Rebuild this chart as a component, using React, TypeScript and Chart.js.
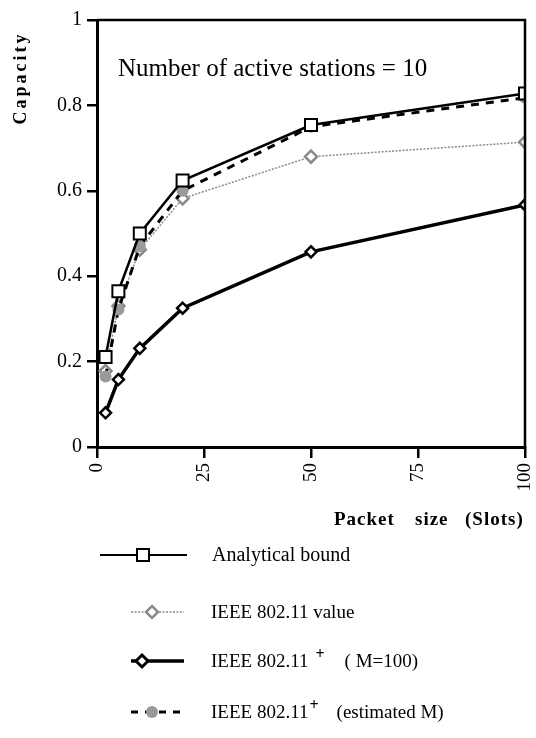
import React, { useEffect, useRef } from 'react';
import { Chart, registerables } from 'chart.js';

Chart.register(...registerables);

const packetSizes = [2, 5, 10, 20, 50, 100];
const analyticalBound = [0.211, 0.365, 0.5, 0.624, 0.754, 0.828];
const ieeeValue = [0.178, 0.33, 0.462, 0.582, 0.68, 0.714];
const ieeePlusM100 = [0.08, 0.158, 0.231, 0.325, 0.457, 0.567];
const ieeePlusEstimated = [0.165, 0.322, 0.47, 0.6, 0.75, 0.818];
const xTickValues = [0, 25, 50, 75, 100];
const yTickValues = [0, 0.2, 0.4, 0.6, 0.8, 1];
const seriesLabels = [
  'Analytical bound',
  'IEEE 802.11 value',
  'IEEE 802.11 + ( M=100)',
  'IEEE 802.11+ (estimated M)',
];
const yTitle = 'Capacity';
const xTitle = ['Packet', 'size', '(Slots)'];
const annotation = 'Number of active stations = 10';

const SERIF = '"Liberation Serif", "Times New Roman", serif';
const GREY = '#8a8a8a';

function drawMarker(ctx: CanvasRenderingContext2D, kind: number, x: number, y: number) {
  ctx.save();
  ctx.setLineDash([]);
  if (kind === 0) {
    ctx.fillStyle = '#fff';
    ctx.strokeStyle = '#000';
    ctx.lineWidth = 2;
    ctx.fillRect(x - 6, y - 6, 12, 12);
    ctx.strokeRect(x - 6, y - 6, 12, 12);
  } else if (kind === 1) {
    ctx.beginPath();
    ctx.moveTo(x, y - 6); ctx.lineTo(x + 6, y); ctx.lineTo(x, y + 6); ctx.lineTo(x - 6, y); ctx.closePath();
    ctx.fillStyle = '#fff';
    ctx.fill();
    ctx.strokeStyle = GREY;
    ctx.lineWidth = 2.5;
    ctx.stroke();
  } else if (kind === 2) {
    ctx.beginPath();
    ctx.moveTo(x, y - 6); ctx.lineTo(x + 6, y); ctx.lineTo(x, y + 6); ctx.lineTo(x - 6, y); ctx.closePath();
    ctx.fillStyle = '#fff';
    ctx.fill();
    ctx.strokeStyle = '#000';
    ctx.lineWidth = 3;
    ctx.stroke();
  } else {
    ctx.beginPath();
    ctx.arc(x, y, 6, 0, Math.PI * 2);
    ctx.fillStyle = '#999';
    ctx.fill();
  }
  ctx.restore();
}

const decorPlugin = {
  id: 'decor',
  afterDraw(chart: any) {
    const ctx: CanvasRenderingContext2D = chart.ctx;
    const area = chart.chartArea;
    ctx.save();
    // frame top & right
    ctx.strokeStyle = '#000';
    ctx.lineWidth = 2.5;
    ctx.beginPath();
    ctx.moveTo(area.left, area.top);
    ctx.lineTo(area.right, area.top);
    ctx.lineTo(area.right, area.bottom);
    ctx.stroke();

    // y title
    ctx.save();
    ctx.translate(21, 78);
    ctx.rotate(-Math.PI / 2);
    ctx.font = `bold 18px ${SERIF}`;
    (ctx as any).letterSpacing = '3px';
    ctx.fillStyle = '#000';
    ctx.textAlign = 'center';
    ctx.textBaseline = 'middle';
    ctx.fillText(yTitle, 0, 0);
    ctx.restore();

    // annotation
    ctx.font = `25px ${SERIF}`;
    ctx.fillStyle = '#000';
    ctx.textAlign = 'left';
    ctx.textBaseline = 'alphabetic';
    ctx.fillText(annotation, 118, 76);

    // x title
    ctx.font = `bold 19px ${SERIF}`;
    (ctx as any).letterSpacing = '1px';
    ctx.textBaseline = 'middle';
    ctx.textAlign = 'left';
    const xs = [334, 415, 465];
    xTitle.forEach((w, i) => ctx.fillText(w, xs[i], 520));
    (ctx as any).letterSpacing = '0px';

    // legend
    const rows = [555, 612, 661, 712];
    const lineStart = [100, 131, 131, 131];
    const lineEnd = [187, 184, 184, 180];
    const markX = [143, 152, 142, 152];
    rows.forEach((ry, i) => {
      ctx.save();
      ctx.beginPath();
      ctx.moveTo(lineStart[i], ry);
      ctx.lineTo(lineEnd[i], ry);
      if (i === 0) { ctx.strokeStyle = '#000'; ctx.lineWidth = 2; ctx.setLineDash([]); }
      if (i === 1) { ctx.strokeStyle = GREY; ctx.lineWidth = 1.5; ctx.setLineDash([2, 1.5]); }
      if (i === 2) { ctx.strokeStyle = '#000'; ctx.lineWidth = 3.5; ctx.setLineDash([]); }
      if (i === 3) { ctx.strokeStyle = '#000'; ctx.lineWidth = 3; ctx.setLineDash([7, 7]); }
      ctx.stroke();
      ctx.restore();
      drawMarker(ctx, i, markX[i], ry);
    });

    ctx.fillStyle = '#000';
    ctx.textBaseline = 'middle';
    ctx.textAlign = 'left';
    ctx.font = `20px ${SERIF}`;
    ctx.fillText(seriesLabels[0], 212, 556);
    ctx.font = `19px ${SERIF}`;
    ctx.fillText(seriesLabels[1], 211, 613);
    // row 3 with superscript
    let x = 211;
    ctx.fillText('IEEE 802.11', x, 662);
    x += ctx.measureText('IEEE 802.11').width + 7;
    ctx.font = `bold 16px ${SERIF}`;
    ctx.fillText('+', x, 655);
    x += ctx.measureText('+').width + 20;
    ctx.font = `19px ${SERIF}`;
    ctx.fillText('( M=100)', x, 662);
    // row 4
    x = 211;
    ctx.fillText('IEEE 802.11', x, 713);
    x += ctx.measureText('IEEE 802.11').width + 1;
    ctx.font = `bold 16px ${SERIF}`;
    ctx.fillText('+', x, 706);
    x += ctx.measureText('+').width + 18;
    ctx.font = `19px ${SERIF}`;
    ctx.fillText('(estimated M)', x, 713);
    ctx.restore();
  },
};

export default function App() {
  const ref = useRef<HTMLCanvasElement | null>(null);
  useEffect(() => {
    if (!ref.current) return;
    const mk = (vals: number[]) => packetSizes.map((x, i) => ({ x, y: vals[i] }));
    const chart = new Chart(ref.current, {
      type: 'line',
      data: {
        datasets: [
          {
            label: seriesLabels[0],
            data: mk(analyticalBound),
            borderColor: '#000',
            borderWidth: 2.5,
            pointStyle: 'rect',
            pointRadius: 8.5,
            pointBackgroundColor: '#fff',
            pointBorderColor: '#000',
            pointBorderWidth: 2,
            order: 0,
          },
          {
            label: seriesLabels[1],
            data: mk(ieeeValue),
            borderColor: GREY,
            borderWidth: 1.5,
            borderDash: [2, 1.5],
            pointStyle: 'rectRot',
            pointRadius: 6,
            pointBackgroundColor: '#fff',
            pointBorderColor: GREY,
            pointBorderWidth: 2.5,
            order: 3,
          },
          {
            label: seriesLabels[2],
            data: mk(ieeePlusM100),
            borderColor: '#000',
            borderWidth: 3.5,
            pointStyle: 'rectRot',
            pointRadius: 5.5,
            pointBackgroundColor: '#fff',
            pointBorderColor: '#000',
            pointBorderWidth: 2.5,
            order: 1,
          },
          {
            label: seriesLabels[3],
            data: mk(ieeePlusEstimated),
            borderColor: '#000',
            borderWidth: 3,
            borderDash: [8, 7],
            pointStyle: 'circle',
            pointRadius: 6,
            pointBackgroundColor: '#9a9a9a',
            pointBorderColor: '#9a9a9a',
            pointBorderWidth: 0,
            order: 2,
          },
        ],
      },
      options: {
        animation: false,
        responsive: false,
        maintainAspectRatio: false,
        layout: { padding: { top: 20, right: 11, left: 0, bottom: 0 } },
        plugins: { legend: { display: false }, tooltip: { enabled: false } },
        scales: {
          x: {
            type: 'linear',
            min: 0,
            max: 100,
            afterBuildTicks: (s: any) => { s.ticks = xTickValues.map((v) => ({ value: v })); },
            afterFit: (s: any) => { s.height = 291; s.paddingLeft = 0; s.paddingRight = 0; },
            border: { color: '#000', width: 3 },
            grid: { drawOnChartArea: false, drawTicks: true, tickLength: 11, color: '#000', lineWidth: 2.5 },
            ticks: {
              minRotation: 90,
              maxRotation: 90,
              autoSkip: false,
              padding: 5,
              color: '#000',
              font: { family: SERIF, size: 19 },
              callback: (v: any) => String(v),
            },
          },
          y: {
            type: 'linear',
            min: 0,
            max: 1,
            afterBuildTicks: (s: any) => { s.ticks = yTickValues.map((v) => ({ value: v })); },
            afterFit: (s: any) => { s.width = 97; s.paddingTop = 0; s.paddingBottom = 0; },
            border: { color: '#000', width: 3 },
            grid: { drawOnChartArea: false, drawTicks: true, tickLength: 10, color: '#000', lineWidth: 2.5 },
            ticks: {
              padding: 5,
              color: '#000',
              font: { family: SERIF, size: 20 },
              callback: (v: any) => String(Math.round(v * 10) / 10),
            },
          },
        },
      },
      plugins: [decorPlugin],
    });
    return () => chart.destroy();
  }, []);
  return (
    <div style={{ position: 'fixed', left: 0, top: 0, width: 536, height: 738, background: '#fff' }}>
      <canvas ref={ref} width={536} height={738} style={{ width: 536, height: 738, display: 'block' }} />
    </div>
  );
}
